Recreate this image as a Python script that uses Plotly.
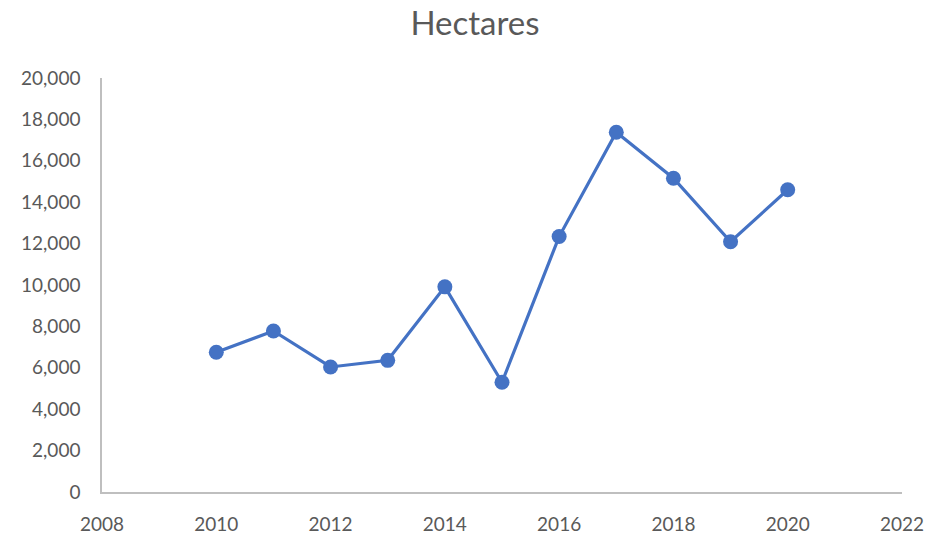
import plotly.graph_objects as go

years = [2010, 2011, 2012, 2013, 2014, 2015, 2016, 2017, 2018, 2019, 2020]
hectares = [6750, 7780, 6040, 6360, 9910, 5300, 12340, 17380, 15160, 12090, 14600]
x_ticks = [2008, 2010, 2012, 2014, 2016, 2018, 2020, 2022]
y_ticks = list(range(0, 20001, 2000))

fig = go.Figure(go.Scatter(
    x=years, y=hectares, mode="lines+markers",
    line=dict(color="#4472C4", width=3.2),
    marker=dict(color="#4472C4", size=15),
))

fig.update_layout(
    width=928, height=537,
    paper_bgcolor="white", plot_bgcolor="white",
    margin=dict(l=102, r=26, t=78, b=45, autoexpand=False),
    title=dict(text="Hectares", x=475/928, xref="container", xanchor="center",
               y=1 - 23/537, yanchor="middle", yref="container",
               font=dict(family="Lato", size=33, color="#595959")),
    font=dict(family="Lato", size=19, color="#595959"),
    showlegend=False,
)
fig.update_xaxes(range=[2008, 2022], tickvals=x_ticks, showgrid=False, zeroline=False,
                 showline=True, linecolor="#BFBFBF", linewidth=1.5, ticks="",
                 automargin=False, ticklabelstandoff=14,
                 tickfont=dict(size=19, color="#595959"))
fig.update_yaxes(range=[0, 20000], tickvals=y_ticks, tickformat=",", showgrid=False, zeroline=False,
                 showline=True, linecolor="#BFBFBF", linewidth=1.5, ticks="",
                 automargin=False, ticklabelstandoff=16,
                 tickfont=dict(size=19, color="#595959"))

fig.write_html("out.html", config={"displayModeBar": False},
               post_script="document.body.style.margin='0px';document.body.style.overflow='hidden';")
